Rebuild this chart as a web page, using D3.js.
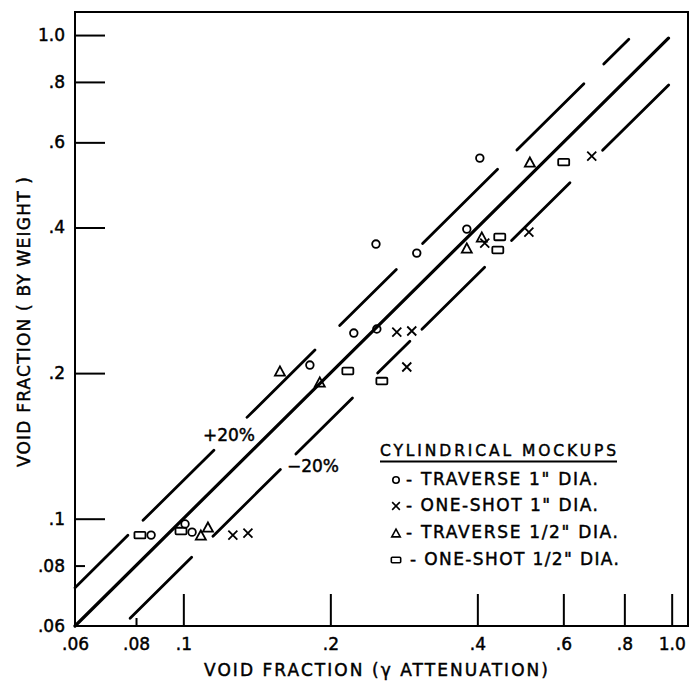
<!DOCTYPE html>
<html>
<head>
<meta charset="utf-8">
<script src="https://cdn.jsdelivr.net/npm/d3@7"></script>
<style>
  html, body { margin: 0; padding: 0; background: #fff; }
  svg { display: block; }
  text { font-family: "DejaVu Sans", "Liberation Sans", sans-serif; fill: #000; stroke: #000; stroke-width: 0.45px; }
</style>
</head>
<body>
<svg id="chart" width="691" height="681"></svg>
<script>
// ---------------- data ----------------
const xTickValues = [0.06, 0.08, 0.1, 0.2, 0.4, 0.6, 0.8, 1.0];
const xTickLabels = [".06", ".08", ".1", ".2", ".4", ".6", ".8", "1.0"];
const yTickValues = [0.06, 0.08, 0.1, 0.2, 0.4, 0.6, 0.8, 1.0];
const yTickLabels = [".06", ".08", ".1", ".2", ".4", ".6", ".8", "1.0"];

// [gamma attenuation, by weight]
const traverse1 = [[0.0859, 0.0925], [0.1008, 0.0975], [0.1042, 0.0938], [0.1816, 0.2078],
  [0.2234, 0.2420], [0.249, 0.2467], [0.248, 0.3697], [0.3006, 0.3541], [0.3806, 0.397], [0.4047, 0.5567]];
const oneShot1 = [[0.1263, 0.0925], [0.1356, 0.0934], [0.2736, 0.2432], [0.2936, 0.2444],
  [0.2868, 0.2059], [0.4142, 0.3715], [0.510, 0.3914], [0.686, 0.5621]];
const traverseHalf = [[0.1086, 0.0925], [0.1123, 0.0961], [0.1577, 0.2020], [0.1903, 0.1917],
  [0.3806, 0.3628], [0.4085, 0.3824], [0.5124, 0.5462]];
const oneShotHalf = [[0.0815, 0.0925], [0.0989, 0.0943], [0.2172, 0.2020], [0.255, 0.1926],
  [0.4446, 0.3824], [0.4405, 0.3594], [0.601, 0.5462]];

// reference lines y = k * x, drawn over x-ranges
const exactLine = [[0.06, 0.985]];
const plus20Segments = [[0.06, 0.077], [0.0827, 0.1155], [0.135, 0.186], [0.209, 0.273],
  [0.309, 0.440], [0.482, 0.661], [0.726, 0.817]];
const minus20Segments = [[0.0778, 0.104], [0.115, 0.158], [0.170, 0.222], [0.250, 0.291],
  [0.308, 0.414], [0.470, 0.619], [0.722, 0.986]];

const legendTitle = "CYLINDRICAL MOCKUPS";
const legendLabels = ["- TRAVERSE  1\" DIA.", "- ONE-SHOT  1\" DIA.", "- TRAVERSE 1/2\" DIA.", "- ONE-SHOT 1/2\" DIA."];
const xTitle = "VOID  FRACTION (\u03B3 ATTENUATION)";
const yTitle = "VOID  FRACTION ( BY  WEIGHT )";

// ---------------- layout ----------------
const svg = d3.select("#chart");
const L = 75, R = 688, T = 12, B = 626;
const x = d3.scaleLog().domain([0.06, 1.08]).range([L, R]);
const y = d3.scaleLog().domain([0.06, 1.116]).range([B, T]);

// frame
svg.append("rect").attr("x", L).attr("y", T).attr("width", R - L).attr("height", B - T)
  .attr("fill", "none").attr("stroke", "#000").attr("stroke-width", 2);

// x axis
const xAxis = d3.axisBottom(x).tickValues(xTickValues)
  .tickFormat((d, i) => xTickLabels[i]).tickSizeInner(-32).tickSizeOuter(0).tickPadding(12);
const gx = svg.append("g").attr("transform", `translate(0,${B})`).call(xAxis);
gx.select(".domain").remove();
gx.selectAll(".tick line").attr("stroke", "#000").attr("stroke-width", 2)
  .attr("y2", d => d === 0.06 ? 0 : (d === 0.08 ? -8 : -32));
gx.selectAll(".tick text").attr("font-size", 17).attr("font-family", "DejaVu Sans");

// y axis
const yAxis = d3.axisLeft(y).tickValues(yTickValues)
  .tickFormat((d, i) => yTickLabels[i]).tickSizeInner(-30).tickSizeOuter(0).tickPadding(10);
const gy = svg.append("g").attr("transform", `translate(${L},0)`).call(yAxis);
gy.select(".domain").remove();
gy.selectAll(".tick line").attr("stroke", "#000").attr("stroke-width", 2)
  .attr("x2", d => d === 0.06 ? 0 : (d === 0.08 ? 10 : 30));
gy.selectAll(".tick text").attr("font-size", 17).attr("font-family", "DejaVu Sans");

// reference lines
function drawSegments(segs, k, w) {
  svg.append("g").selectAll("line").data(segs).join("line")
    .attr("x1", d => x(d[0])).attr("y1", d => y(k * d[0]))
    .attr("x2", d => x(d[1])).attr("y2", d => y(k * d[1]))
    .attr("stroke", "#000").attr("stroke-width", w).attr("stroke-linecap", "round");
}
drawSegments(exactLine, 1.0, 3.2);
drawSegments(plus20Segments, 1.2, 2.8);
drawSegments(minus20Segments, 0.8, 2.8);

svg.append("text").attr("x", 229).attr("y", 441).attr("text-anchor", "middle")
  .attr("font-size", 17).text("+20%");
svg.append("text").attr("x", 313).attr("y", 472).attr("text-anchor", "middle")
  .attr("font-size", 17).text("\u221220%");

// markers
function marker(g, type, cx, cy, s) {
  if (type === "circle") {
    g.append("circle").attr("cx", cx).attr("cy", cy).attr("r", 3.8 * s);
  } else if (type === "cross") {
    const h = 4.5 * s;
    g.append("path").attr("d", `M${cx - h},${cy - h}L${cx + h},${cy + h}M${cx - h},${cy + h}L${cx + h},${cy - h}`);
  } else if (type === "triangle") {
    const w = 5 * s, hh = 4.6 * s;
    g.append("path").attr("d", `M${cx},${cy - hh}L${cx + w},${cy + hh}L${cx - w},${cy + hh}Z`);
  } else if (type === "square") {
    const w = 5.5 * s, hh = 3.3 * s;
    g.append("rect").attr("x", cx - w).attr("y", cy - hh).attr("width", 2 * w).attr("height", 2 * hh).attr("rx", 1);
  }
}
const series = [
  { data: traverse1, type: "circle" },
  { data: oneShot1, type: "cross" },
  { data: traverseHalf, type: "triangle" },
  { data: oneShotHalf, type: "square" }
];
const gm = svg.append("g").attr("fill", "none").attr("stroke", "#000").attr("stroke-width", 1.8);
series.forEach(s => s.data.forEach(p => marker(gm, s.type, x(p[0]), y(p[1]), 1)));

// legend
svg.append("text").attr("x", 380).attr("y", 456).attr("font-size", 15.5)
  .attr("textLength", 236).attr("lengthAdjust", "spacing").text(legendTitle);
svg.append("line").attr("x1", 380).attr("x2", 617).attr("y1", 461.5).attr("y2", 461.5)
  .attr("stroke", "#000").attr("stroke-width", 1.8);
const legendBase = [485, 511, 538, 565];
const legendEnds = [598, 598, 618, 619];
const legendStarts = [406, 406, 406, 410];
const gl = svg.append("g").attr("fill", "none").attr("stroke", "#000").attr("stroke-width", 1.6);
series.forEach((s, i) => {
  marker(gl, s.type, 396, legendBase[i] - 5, 0.85);
  svg.append("text").attr("x", legendStarts[i]).attr("y", legendBase[i]).attr("font-size", 17)
    .attr("textLength", legendEnds[i] - legendStarts[i]).attr("lengthAdjust", "spacing")
    .text(legendLabels[i]);
});

// axis titles
svg.append("text").attr("x", 204).attr("y", 676).attr("font-size", 17)
  .attr("textLength", 344).attr("lengthAdjust", "spacing").text(xTitle);
svg.append("text").attr("transform", "translate(30,467) rotate(-90)").attr("font-size", 17)
  .attr("textLength", 290).attr("lengthAdjust", "spacing").text(yTitle);
</script>
</body>
</html>
